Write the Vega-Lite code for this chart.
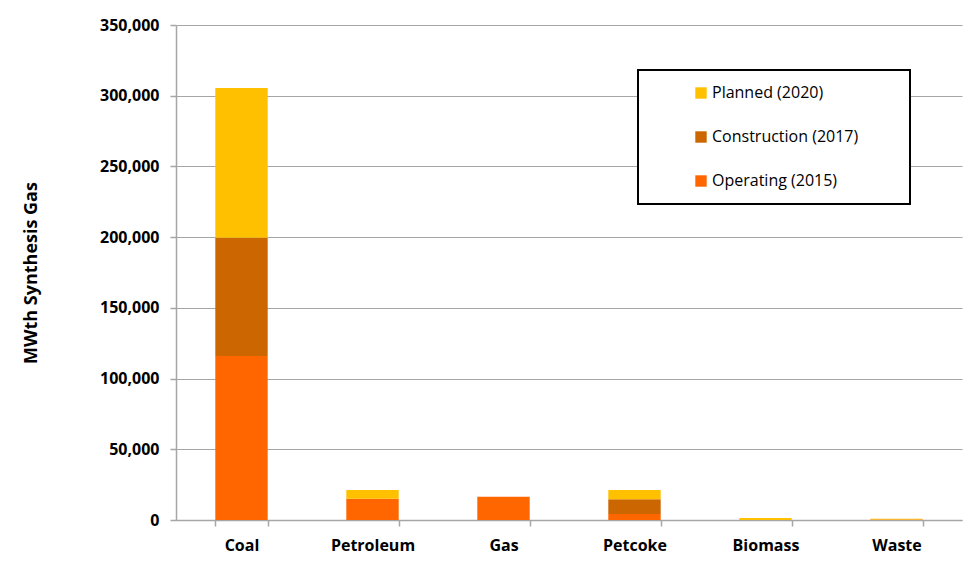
{
  "$schema": "https://vega.github.io/schema/vega-lite/v6.json",
  "autosize": "none",
  "width": 786,
  "height": 495,
  "padding": {"left": 176, "top": 25, "right": 9, "bottom": 42},
  "background": "white",
  "config": {
    "view": {"stroke": null},
    "font": "Open Sans"
  },
  "data": {
    "values": [
      {"fuel": "Coal", "status": "Operating (2015)", "rank": 1, "mwth": 116000},
      {"fuel": "Coal", "status": "Construction (2017)", "rank": 2, "mwth": 83500},
      {"fuel": "Coal", "status": "Planned (2020)", "rank": 3, "mwth": 106000},
      {"fuel": "Petroleum", "status": "Operating (2015)", "rank": 1, "mwth": 15000},
      {"fuel": "Petroleum", "status": "Construction (2017)", "rank": 2, "mwth": 0},
      {"fuel": "Petroleum", "status": "Planned (2020)", "rank": 3, "mwth": 6200},
      {"fuel": "Gas", "status": "Operating (2015)", "rank": 1, "mwth": 16500},
      {"fuel": "Gas", "status": "Construction (2017)", "rank": 2, "mwth": 0},
      {"fuel": "Gas", "status": "Planned (2020)", "rank": 3, "mwth": 0},
      {"fuel": "Petcoke", "status": "Operating (2015)", "rank": 1, "mwth": 4200},
      {"fuel": "Petcoke", "status": "Construction (2017)", "rank": 2, "mwth": 10400},
      {"fuel": "Petcoke", "status": "Planned (2020)", "rank": 3, "mwth": 6600},
      {"fuel": "Biomass", "status": "Operating (2015)", "rank": 1, "mwth": 0},
      {"fuel": "Biomass", "status": "Construction (2017)", "rank": 2, "mwth": 0},
      {"fuel": "Biomass", "status": "Planned (2020)", "rank": 3, "mwth": 1500},
      {"fuel": "Waste", "status": "Operating (2015)", "rank": 1, "mwth": 400},
      {"fuel": "Waste", "status": "Construction (2017)", "rank": 2, "mwth": 0},
      {"fuel": "Waste", "status": "Planned (2020)", "rank": 3, "mwth": 500}
    ]
  },
  "mark": {"type": "bar"},
  "encoding": {
    "x": {
      "field": "fuel",
      "type": "nominal",
      "sort": ["Coal", "Petroleum", "Gas", "Petcoke", "Biomass", "Waste"],
      "scale": {"paddingInner": 0.6, "paddingOuter": 0.3},
      "axis": {
        "title": null,
        "labelAngle": 0,
        "labelFont": "Open Sans",
        "labelFontWeight": "bold",
        "labelFontSize": 16,
        "labelColor": "#000000",
        "labelPadding": 11,
        "domainColor": "#A6A6A6",
        "domainWidth": 1.5,
        "tickColor": "#A6A6A6",
        "tickWidth": 1.5,
        "tickSize": 6,
        "tickBand": "extent",
        "grid": false
      }
    },
    "y": {
      "field": "mwth",
      "type": "quantitative",
      "stack": "zero",
      "scale": {"domain": [0, 350000], "nice": false},
      "axis": {
        "title": "MWth Synthesis Gas",
        "titleFont": "Open Sans",
        "titleFontWeight": "bold",
        "titleFontSize": 18,
        "titleColor": "#000000",
        "titlePadding": 59,
        "values": [0, 50000, 100000, 150000, 200000, 250000, 300000, 350000],
        "format": ",d",
        "labelFont": "Open Sans",
        "labelFontWeight": "bold",
        "labelFontSize": 16,
        "labelColor": "#000000",
        "labelPadding": 11,
        "domainColor": "#A6A6A6",
        "domainWidth": 1.5,
        "tickColor": "#A6A6A6",
        "tickWidth": 1.5,
        "tickSize": 6,
        "grid": true,
        "gridColor": "#A6A6A6",
        "gridWidth": 1.2
      }
    },
    "color": {
      "field": "status",
      "type": "nominal",
      "scale": {
        "domain": ["Planned (2020)", "Construction (2017)", "Operating (2015)"],
        "range": ["#FFC000", "#CC6600", "#FF6600"]
      },
      "legend": {
        "title": null,
        "orient": "none",
        "legendX": 462,
        "legendY": 45,
        "padding": 15,
        "symbolType": "square",
        "symbolSize": 130,
        "symbolStrokeWidth": 0,
        "symbolOffset": 40,
        "labelFont": "Open Sans",
        "labelFontSize": 16,
        "labelColor": "#000000",
        "labelOffset": 3,
        "labelLimit": 400,
        "labelExpr": "datum.label + '\u2800\u2800\u2800'",
        "rowPadding": 28,
        "strokeColor": "#000000",
        "fillColor": "white",
        "encode": {
          "legend": {"update": {"strokeWidth": {"value": 2}}}
        }
      }
    },
    "order": {"field": "rank", "type": "quantitative"}
  }
}
